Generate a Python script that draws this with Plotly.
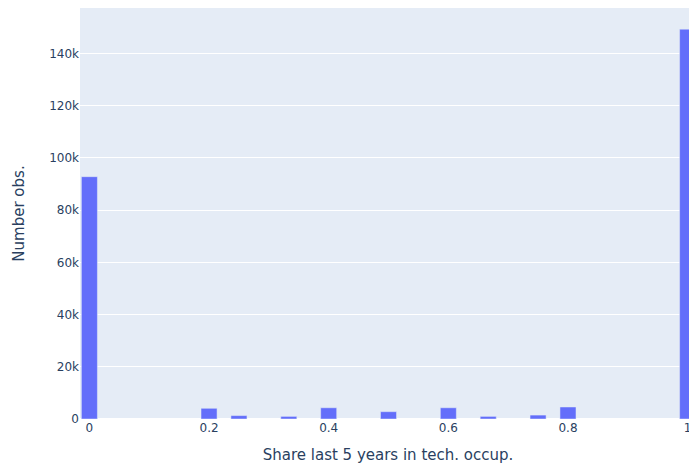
import plotly.graph_objects as go

share_values = [0, 0.2, 0.25, 1/3, 0.4, 0.5, 0.6, 2/3, 0.75, 0.8, 1]
counts = [92800, 4100, 1300, 1000, 4300, 2800, 4300, 1000, 1500, 4600, 149300]
x_tick_vals = [0, 0.2, 0.4, 0.6, 0.8, 1]
x_tick_text = ["0", "0.2", "0.4", "0.6", "0.8", "1"]
y_tick_vals = [0, 20000, 40000, 60000, 80000, 100000, 120000, 140000]
y_tick_text = ["0", "20k", "40k", "60k", "80k", "100k", "120k", "140k"]

fig = go.Figure(
    go.Bar(
        x=share_values,
        y=counts,
        width=0.0268,
        marker_color="#636efa",
    )
)

fig.update_layout(
    width=696,
    height=474,
    margin=dict(l=80, r=0, t=8, b=55),
    template="plotly",
    showlegend=False,
    font=dict(family="'DejaVu Sans', Verdana, sans-serif", color="#2a3f5f", size=12),
    xaxis=dict(
        title=dict(text="Share last 5 years in tech. occup.", font=dict(size=15)),
        range=[-0.0157, 1.0140],
        tickvals=x_tick_vals,
        ticktext=x_tick_text,
        automargin=False,
    ),
    yaxis=dict(
        title=dict(text="Number obs.", font=dict(size=15), standoff=20),
        range=[0, 157400],
        tickvals=y_tick_vals,
        ticktext=y_tick_text,
        automargin=False,
    ),
)

fig.write_html(
    "out.html",
    config={"displayModeBar": False},
    post_script=(
        "document.body.style.margin='0';"
        "document.body.style.overflow='hidden';"
        "document.documentElement.style.overflow='hidden';"
    ),
)
